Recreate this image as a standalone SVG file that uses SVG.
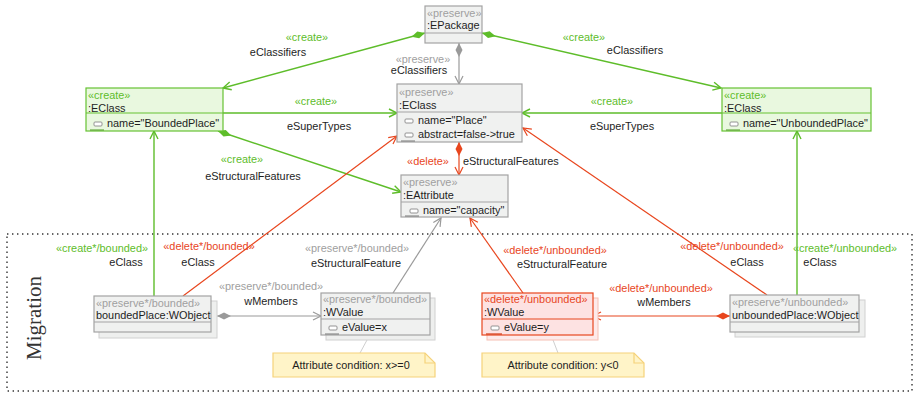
<svg xmlns="http://www.w3.org/2000/svg" width="915" height="398" viewBox="0 0 915 398">
<style>
text{font-family:"Liberation Sans",Arial,sans-serif;font-size:10.9px;fill:#1e1e1e}
.st{fill:#a0a0a0}
.sg{fill:#5ebd2a}
.sr{fill:#e8461e}
.c{text-anchor:middle}
.bx{fill:#f0f1f0;stroke:#a3a3a3;stroke-width:1.2}
.sh{fill:#eeefee;stroke:#d0d0d0;stroke-width:1}
.bg{fill:#e9f8df;stroke:#66c233;stroke-width:1.2}
.br{fill:#fde2e2;stroke:#e8461e;stroke-width:1.2}
.shr{fill:#fdeaea;stroke:#f6c0b4;stroke-width:1}
.dv{stroke-width:1.2}
.ic{fill:#fff;stroke:#888;stroke-width:0.9}
.eg{stroke:#5ebd2a;stroke-width:1.4;fill:none}
.er{stroke:#e8461e;stroke-width:1.2;fill:none}
.ek{stroke:#9a9a9a;stroke-width:1.2;fill:none}
.note{fill:#fff4c8;stroke:#f5d27a;stroke-width:1.2}
.nl{stroke:#cfcfcf;stroke-width:1;fill:none}
</style>
<defs>
<marker id="aG" viewBox="-10 -6 12 12" refX="0" refY="0" markerWidth="12" markerHeight="12" markerUnits="userSpaceOnUse" orient="auto"><path d="M-8,-4 L0,0 L-8,4" fill="none" stroke="#5ebd2a" stroke-width="1.4"/></marker>
<marker id="aR" viewBox="-10 -6 12 12" refX="0" refY="0" markerWidth="12" markerHeight="12" markerUnits="userSpaceOnUse" orient="auto"><path d="M-8,-4 L0,0 L-8,4" fill="none" stroke="#e8461e" stroke-width="1.2"/></marker>
<marker id="aK" viewBox="-10 -6 12 12" refX="0" refY="0" markerWidth="12" markerHeight="12" markerUnits="userSpaceOnUse" orient="auto"><path d="M-8,-4 L0,0 L-8,4" fill="none" stroke="#9a9a9a" stroke-width="1.2"/></marker>
<marker id="dG" viewBox="-1 -5 16 10" refX="0" refY="0" markerWidth="16" markerHeight="10" markerUnits="userSpaceOnUse" orient="auto"><path d="M0,0 L7,-3.5 L14,0 L7,3.5 Z" fill="#5ebd2a"/></marker>
<marker id="dR" viewBox="-1 -5 16 10" refX="0" refY="0" markerWidth="16" markerHeight="10" markerUnits="userSpaceOnUse" orient="auto"><path d="M0,0 L7,-3.5 L14,0 L7,3.5 Z" fill="#e8461e"/></marker>
<marker id="dK" viewBox="-1 -5 16 10" refX="0" refY="0" markerWidth="16" markerHeight="10" markerUnits="userSpaceOnUse" orient="auto"><path d="M0,0 L7,-3.5 L14,0 L7,3.5 Z" fill="#9a9a9a"/></marker>
</defs>

<rect x="7" y="234" width="905" height="157" fill="none" stroke="#333" stroke-width="1.4" stroke-dasharray="1.4,3.6"/>
<text transform="translate(41,318) rotate(-90)" class="c" style="font-family:'Liberation Serif','Times New Roman',serif;font-size:21px;fill:#333">Migration</text>

<g id="connectors">
<path class="eg" d="M425,33 L223,88" marker-start="url(#dG)" marker-end="url(#aG)"/>
<path class="eg" d="M482,33 L721,88" marker-start="url(#dG)" marker-end="url(#aG)"/>
<path class="ek" d="M459,43 L459,84" marker-start="url(#dK)" marker-end="url(#aK)"/>
<path class="eg" d="M223,113 L397,113" marker-end="url(#aG)"/>
<path class="eg" d="M722,113 L522,113" marker-end="url(#aG)"/>
<path class="eg" d="M218,131 L401,192" marker-start="url(#dG)" marker-end="url(#aG)"/>
<path class="er" d="M459,142 L459,175" marker-start="url(#dR)" marker-end="url(#aR)"/>
<path class="eg" d="M154,296 L154,131" marker-end="url(#aG)"/>
<path class="er" d="M183,296 L397,136" marker-end="url(#aR)"/>
<path class="ek" d="M217,316 L321,316" marker-start="url(#dK)" marker-end="url(#aK)"/>
<path class="ek" d="M393,293 L441,218" marker-end="url(#aK)"/>
<path class="er" d="M523,293 L470,218" marker-end="url(#aR)"/>
<path class="er" d="M730,316 L593,316" marker-start="url(#dR)" marker-end="url(#aR)"/>
<path class="er" d="M767,295 L523,128" marker-end="url(#aR)"/>
<path class="eg" d="M797,295 L797,131" marker-end="url(#aG)"/>
<path class="nl" d="M367,340 L360,353"/>
<path class="nl" d="M553,340 L558,353"/>

<text class="c sg" x="307" y="41">«create»</text>
<text class="c" x="278" y="56">eClassifiers</text>
<text class="c sg" x="584" y="41">«create»</text>
<text class="c" x="635" y="54">eClassifiers</text>
<text class="c st" x="423" y="63">«preserve»</text>
<text class="c" x="419" y="74">eClassifiers</text>
<text class="c sg" x="316" y="105">«create»</text>
<text class="c" x="319" y="130">eSuperTypes</text>
<text class="c sg" x="612" y="105">«create»</text>
<text class="c" x="622" y="130">eSuperTypes</text>
<text class="c sg" x="242" y="163">«create»</text>
<text class="c" x="253" y="180">eStructuralFeatures</text>
<text class="c sr" x="428" y="165">«delete»</text>
<text x="463" y="165">eStructuralFeatures</text>
<text class="c sg" x="102" y="252">«create*/bounded»</text>
<text class="c" x="126" y="266">eClass</text>
<text class="c sr" x="209" y="250">«delete*/bounded»</text>
<text class="c" x="198" y="266">eClass</text>
<text class="c st" x="357" y="252">«preserve*/bounded»</text>
<text class="c" x="356" y="267">eStructuralFeature</text>
<text class="c st" x="271" y="290">«preserve*/bounded»</text>
<text class="c" x="271" y="305">wMembers</text>
<text class="c sr" x="555" y="254">«delete*/unbounded»</text>
<text class="c" x="562" y="268">eStructuralFeature</text>
<text class="c sr" x="661" y="292">«delete*/unbounded»</text>
<text class="c" x="664" y="306">wMembers</text>
<text class="c sr" x="732" y="250">«delete*/unbounded»</text>
<text class="c" x="747" y="266">eClass</text>
<text class="c sg" x="845" y="252">«create*/unbounded»</text>
<text class="c" x="820" y="266">eClass</text>
</g>

<g id="EPackage">
<rect class="bx" x="425" y="6" width="57" height="37"/>
<line class="dv" x1="425" y1="33" x2="482" y2="33" stroke="#a3a3a3"/>
<text class="st" x="427" y="17">«preserve»</text>
<text x="427" y="29">:EPackage</text>
</g>

<g id="PlaceEClass">
<rect class="bx" x="397" y="84" width="125" height="58"/>
<line class="dv" x1="397" y1="112" x2="522" y2="112" stroke="#a3a3a3"/>
<text class="st" x="399" y="96">«preserve»</text>
<text x="399" y="109">:EClass</text>
<rect class="ic" x="405" y="119" width="8" height="4" rx="1"/>
<text x="418" y="124">name="Place"</text>
<rect class="ic" x="405" y="133" width="8" height="4" rx="1"/>
<text x="418" y="138">abstract=false-&gt;true</text>
<line x1="401" y1="141" x2="415" y2="141" stroke="#777" stroke-width="1"/>
</g>

<g id="EAttribute">
<rect class="bx" x="401" y="175" width="107" height="42"/>
<line class="dv" x1="401" y1="202" x2="508" y2="202" stroke="#a3a3a3"/>
<text class="st" x="403" y="186">«preserve»</text>
<text x="403" y="199">:EAttribute</text>
<rect class="ic" x="410" y="209" width="8" height="4" rx="1"/>
<text x="423" y="214">name="capacity"</text>
<line x1="405" y1="216" x2="419" y2="216" stroke="#777" stroke-width="1"/>
</g>

<g id="BoundedPlaceEClass">
<rect class="bg" x="86" y="88" width="137" height="43"/>
<line class="dv" x1="86" y1="113" x2="223" y2="113" stroke="#66c233"/>
<text class="sg" x="88" y="99">«create»</text>
<text x="88" y="112">:EClass</text>
<rect class="ic" x="94" y="122" width="8" height="4" rx="1"/>
<text x="107" y="127">name="BoundedPlace"</text>
<line x1="90" y1="130" x2="104" y2="130" stroke="#4a9a20" stroke-width="1"/>
</g>

<g id="UnboundedPlaceEClass">
<rect class="bg" x="722" y="88" width="149" height="43"/>
<line class="dv" x1="722" y1="113" x2="871" y2="113" stroke="#66c233"/>
<text class="sg" x="724" y="99">«create»</text>
<text x="724" y="112">:EClass</text>
<rect class="ic" x="730" y="122" width="8" height="4" rx="1"/>
<text x="743" y="127">name="UnboundedPlace"</text>
<line x1="726" y1="130" x2="740" y2="130" stroke="#4a9a20" stroke-width="1"/>
</g>

<g id="boundedPlaceWObject">
<rect class="sh" x="99" y="301" width="118" height="37"/>
<rect class="bx" x="94" y="296" width="117" height="36"/>
<line class="dv" x1="94" y1="322" x2="211" y2="322" stroke="#a3a3a3"/>
<text class="st" x="96" y="307">«preserve*/bounded»</text>
<text x="96" y="319">boundedPlace:WObject</text>
</g>

<g id="WValuePreserve">
<rect class="sh" x="326" y="298" width="109" height="42"/>
<rect class="bx" x="321" y="293" width="109" height="42"/>
<line class="dv" x1="321" y1="319" x2="430" y2="319" stroke="#a3a3a3"/>
<text class="st" x="323" y="303">«preserve*/bounded»</text>
<text x="323" y="316">:WValue</text>
<rect class="ic" x="329" y="326" width="8" height="4" rx="1"/>
<text x="342" y="331">eValue=x</text>
<line x1="325" y1="334" x2="339" y2="334" stroke="#777" stroke-width="1"/>
</g>

<g id="WValueDelete">
<rect class="shr" x="487" y="298" width="111" height="42"/>
<rect class="br" x="482" y="293" width="111" height="42"/>
<line class="dv" x1="482" y1="319" x2="593" y2="319" stroke="#e8461e"/>
<text class="sr" x="484" y="303">«delete*/unbounded»</text>
<text x="484" y="316">:WValue</text>
<rect class="ic" x="491" y="326" width="8" height="4" rx="1"/>
<text x="504" y="331">eValue=y</text>
<line x1="486" y1="334" x2="502" y2="334" stroke="#d43a14" stroke-width="1.2"/>
</g>

<g id="unboundedPlaceWObject">
<rect class="sh" x="735" y="300" width="130" height="37"/>
<rect class="bx" x="730" y="295" width="129" height="37"/>
<line class="dv" x1="730" y1="322" x2="859" y2="322" stroke="#a3a3a3"/>
<text class="st" x="732" y="306">«preserve*/unbounded»</text>
<text x="732" y="319">unboundedPlace:WObject</text>
</g>

<g id="NoteX">
<path class="note" d="M273,353 L425,353 L435,363 L435,377 L273,377 Z"/>
<path d="M425,353 L425,363 L435,363" fill="none" stroke="#f5d27a" stroke-width="1.2"/>
<text class="c" x="351" y="369">Attribute condition: x&gt;=0</text>
</g>

<g id="NoteY">
<path class="note" d="M482,353 L634,353 L644,363 L644,377 L482,377 Z"/>
<path d="M634,353 L634,363 L644,363" fill="none" stroke="#f5d27a" stroke-width="1.2"/>
<text class="c" x="563" y="369">Attribute condition: y&lt;0</text>
</g>
</svg>
